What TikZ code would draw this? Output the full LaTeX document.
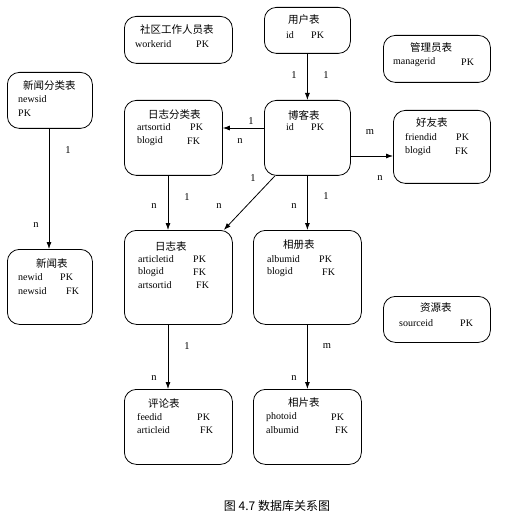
\documentclass[tikz,border=0pt]{standalone}
\usepackage{fontspec}
\setmainfont{Liberation Serif}
\newfontfamily\cjk{Noto Sans CJK SC}
\usetikzlibrary{arrows.meta}
\begin{document}
\begin{tikzpicture}[x=1pt,y=-1pt,
  tbl/.style={draw, rounded corners=12pt, line width=0.8pt, inner sep=0pt, anchor=north west},
  ttl/.style={font=\cjk\fontsize{10.5}{12}\selectfont, inner sep=0pt, anchor=west},
  fld/.style={font=\fontsize{10}{12}\selectfont, inner sep=0pt, anchor=west},
  lbl/.style={font=\fontsize{10.5}{12}\selectfont, inner sep=0pt},
  conn/.style={line width=0.8pt, -{Latex[length=7pt,width=5pt]}}]
\useasboundingbox (0,0) rectangle (515,521);
\fill[white] (0,0) rectangle (515,521);
% boxes
\node[tbl, minimum width=108pt, minimum height=47pt] (worker) at (124,16) {};
\node[tbl, minimum width=86pt, minimum height=46pt] (user) at (264,7) {};
\node[tbl, minimum width=107pt, minimum height=47pt] (admin) at (383,35) {};
\node[tbl, minimum width=85pt, minimum height=56pt] (newscat) at (7,72) {};
\node[tbl, minimum width=98pt, minimum height=75pt] (artsort) at (124,100) {};
\node[tbl, minimum width=86pt, minimum height=75pt] (blog) at (264,100) {};
\node[tbl, minimum width=97pt, minimum height=73pt] (friend) at (393,110) {};
\node[tbl, minimum width=85pt, minimum height=75pt] (news) at (7,249) {};
\node[tbl, minimum width=108pt, minimum height=94pt] (article) at (124,230) {};
\node[tbl, minimum width=108pt, minimum height=94pt] (album) at (253,230) {};
\node[tbl, minimum width=107pt, minimum height=46pt] (source) at (383,296) {};
\node[tbl, minimum width=108pt, minimum height=75pt] (comment) at (124,389) {};
\node[tbl, minimum width=108pt, minimum height=75pt] (photo) at (253,389) {};
% texts
\node[ttl] (t1) at (140,30) {社区工作人员表};
\node[fld] (f1a) at (135,44) {workerid};
\node[fld] (f1b) at (196,44) {PK};
\node[ttl] (t2) at (288,20) {用户表};
\node[fld] (f2a) at (286,35) {id};
\node[fld] (f2b) at (311,35) {PK};
\node[ttl] (t3) at (410,48) {管理员表};
\node[fld] (f3a) at (393,62) {managerid};
\node[fld] (f3b) at (461,62) {PK};
\node[ttl] (t4) at (23,86) {新闻分类表};
\node[fld] (f4a) at (18,99) {newsid};
\node[fld] (f4b) at (18,113) {PK};
\node[ttl] (t5) at (148,115) {日志分类表};
\node[fld] (f5a) at (137,127) {artsortid};
\node[fld] (f5b) at (190,127) {PK};
\node[fld] (f5c) at (137,141) {blogid};
\node[fld] (f5d) at (187,141) {FK};
\node[ttl] (t6) at (288,115) {博客表};
\node[fld] (f6a) at (286,127) {id};
\node[fld] (f6b) at (311,127) {PK};
\node[ttl] (t7) at (416,123) {好友表};
\node[fld] (f7a) at (405,137) {friendid};
\node[fld] (f7b) at (456,137) {PK};
\node[fld] (f7c) at (405,151) {blogid};
\node[fld] (f7d) at (455,151) {FK};
\node[ttl] (t8) at (36,263) {新闻表};
\node[fld] (f8a) at (18,277) {newid};
\node[fld] (f8b) at (60,277) {PK};
\node[fld] (f8c) at (18,291) {newsid};
\node[fld] (f8d) at (66,291) {FK};
\node[ttl] (t9) at (155,247) {日志表};
\node[fld] (f9a) at (138,259) {articletid};
\node[fld] (f9b) at (193,259) {PK};
\node[fld] (f9c) at (138,272) {blogid};
\node[fld] (f9d) at (193,272) {FK};
\node[fld] (f9e) at (138,285) {artsortid};
\node[fld] (f9f) at (196,285) {FK};
\node[ttl] (t10) at (283,245) {相册表};
\node[fld] (f10a) at (267,259) {albumid};
\node[fld] (f10b) at (319,259) {PK};
\node[fld] (f10c) at (267,272) {blogid};
\node[fld] (f10d) at (322,272) {FK};
\node[ttl] (t11) at (420,308) {资源表};
\node[fld] (f11a) at (399,323) {sourceid};
\node[fld] (f11b) at (460,323) {PK};
\node[ttl] (t12) at (148,403) {评论表};
\node[fld] (f12a) at (137,417) {feedid};
\node[fld] (f12b) at (197,417) {PK};
\node[fld] (f12c) at (137,430) {articleid};
\node[fld] (f12d) at (200,430) {FK};
\node[ttl] (t13) at (288,403) {相片表};
\node[fld] (f13a) at (266,417) {photoid};
\node[fld] (f13b) at (331,417) {PK};
\node[fld] (f13c) at (266,430) {albumid};
\node[fld] (f13d) at (335,430) {FK};
% helper coordinates
\coordinate (ya) at (0,128);
\coordinate (yb) at (0,156);
\coordinate (xa) at (168,0);
\coordinate (xb) at (49,0);
% connectors
\draw[conn] (user.south) -- (blog.north);
\draw[conn] (blog.west |- ya) -- (artsort.east |- ya);
\draw[conn] (blog.east |- yb) -- (friend.west |- yb);
\draw[conn] ([xshift=11pt]blog.south west) -- ([xshift=-9pt]article.north east);
\draw[conn] (artsort.south -| xa) -- (article.north -| xa);
\draw[conn] (blog.south) -- (album.north);
\draw[conn] (newscat.south -| xb) -- (news.north -| xb);
\draw[conn] (article.south -| xa) -- (comment.north -| xa);
\draw[conn] (album.south) -- (photo.north);
% labels
\node[lbl] (l1) at (294,75) {1};
\node[lbl] (l2) at (326,75) {1};
\node[lbl] (l3) at (251,121) {1};
\node[lbl] (l4) at (240,141) {n};
\node[lbl] (l5) at (370,132) {m};
\node[lbl] (l6) at (380,178) {n};
\node[lbl] (l7) at (253,178) {1};
\node[lbl] (l8) at (219,206) {n};
\node[lbl] (l9) at (187,197) {1};
\node[lbl] (l10) at (154,206) {n};
\node[lbl] (l11) at (326,196) {1};
\node[lbl] (l12) at (294,206) {n};
\node[lbl] (l13) at (68,150) {1};
\node[lbl] (l14) at (36,225) {n};
\node[lbl] (l15) at (187,346) {1};
\node[lbl] (l16) at (154,378) {n};
\node[lbl] (l17) at (327,346) {m};
\node[lbl] (l18) at (294,378) {n};
% caption
\node[font=\cjk\fontsize{12}{14}\selectfont, inner sep=0pt] (cap) at (277,506) {图 4.7\ 数据库关系图};
\end{tikzpicture}
\end{document}
